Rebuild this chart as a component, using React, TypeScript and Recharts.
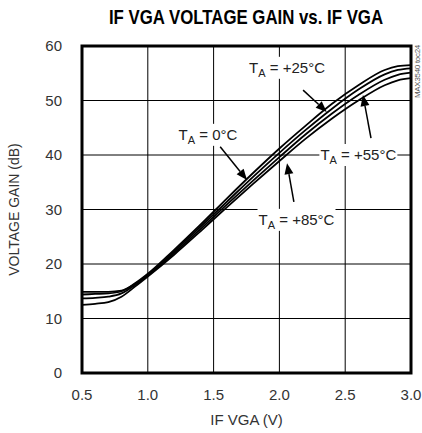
import React from 'react';
import { LineChart, Line, XAxis, YAxis, CartesianGrid, ReferenceArea, ReferenceDot, ReferenceLine, Label } from 'recharts';

const vga = [0.5, 0.6, 0.7, 0.8, 0.9, 1.0, 1.2, 1.4, 1.6, 1.8, 2.0, 2.2, 2.4, 2.6, 2.8, 2.9, 3.0];
const gain0 = [14.9, 14.9, 14.9, 15.1, 16.4, 18.2, 22.6, 27.2, 32.0, 36.7, 41.2, 45.4, 49.4, 52.8, 55.6, 56.3, 56.5];
const gain25 = [14.4, 14.5, 14.6, 15.0, 16.3, 18.0, 22.3, 26.8, 31.4, 36.0, 40.4, 44.6, 48.5, 52.0, 54.8, 55.6, 55.9];
const gain55 = [13.7, 13.8, 14.0, 14.6, 16.1, 17.9, 22.0, 26.4, 30.9, 35.3, 39.6, 43.8, 47.6, 51.0, 53.8, 54.7, 55.1];
const gain85 = [12.5, 12.7, 13.0, 14.0, 15.8, 17.7, 21.7, 26.0, 30.4, 34.7, 38.9, 43.0, 46.7, 50.0, 52.8, 53.7, 54.1];

const xTicks = [0.5, 1.0, 1.5, 2.0, 2.5, 3.0];
const yTicks = [0, 10, 20, 30, 40, 50, 60];

// temperature callouts: label anchor + arrow (tail -> tip), in data units
const callouts = [
  { temp: '0°C', at: [1.457, 43.7], tail: [1.55, 41.5], tip: [1.754, 35.4] },
  { temp: '+25°C', at: [2.058, 56.0], tail: [2.18, 51.9], tip: [2.36, 47.9] },
  { temp: '+55°C', at: [2.6, 40.0], tail: [2.696, 43.1], tip: [2.635, 51.0] },
  { temp: '+85°C', at: [2.13, 28.1], tail: [2.11, 31.4], tip: [2.058, 38.5] },
];

const data = vga.map((v, i) => ({ v, t0: gain0[i], t25: gain25[i], t55: gain55[i], t85: gain85[i] }));

const FONT = '"Liberation Sans", Arial, sans-serif';

const TempLabel = ({ cx, cy, temp }: any) => {
  const w = temp.length > 4 ? 78 : 62;
  return (
    <g>
      <rect x={cx - w / 2} y={cy - 11} width={w} height={22} fill="#fff" />
      <text x={cx} y={cy + 5} textAnchor="middle" fontFamily={FONT} fontSize={15} fill="#222">
        T<tspan fontSize={11} dy={4}>A</tspan>
        <tspan dy={-4}>{` = ${temp}`}</tspan>
      </text>
    </g>
  );
};

const Arrow = ({ x1, y1, x2, y2 }: any) => {
  const dx = x2 - x1, dy = y2 - y1;
  const len = Math.sqrt(dx * dx + dy * dy) || 1;
  const ux = dx / len, uy = dy / len;
  const hl = 11, hw = 4.5;
  const bx = x2 - ux * hl, by = y2 - uy * hl;
  const pts = `${x2},${y2} ${bx - uy * hw},${by + ux * hw} ${bx + uy * hw},${by - ux * hw}`;
  return (
    <g>
      <line x1={x1} y1={y1} x2={bx} y2={by} stroke="#000" strokeWidth={1.5} />
      <polygon points={pts} fill="#000" />
    </g>
  );
};

export default function App() {
  return (
    <div style={{ position: 'absolute', left: 0, top: 0, width: 422, height: 433, background: '#fff', fontFamily: FONT }}>
      <div style={{ position: 'absolute', left: 0, top: 5, width: 492, textAlign: 'center', fontSize: 21, fontWeight: 'bold', color: '#000', transform: 'scaleX(0.8)', transformOrigin: '246px 0' }}>
        IF VGA VOLTAGE GAIN vs. IF VGA
      </div>
      <div style={{ position: 'absolute', left: 414, top: 45, fontSize: 8, lineHeight: '8px', color: '#555', writingMode: 'vertical-rl', transform: 'rotate(180deg)', whiteSpace: 'nowrap', letterSpacing: '-0.3px' }}>MAX3540 toc24</div>
      <LineChart width={422} height={433} data={data} margin={{ top: 46, right: 11, bottom: 5, left: 10 }}>
        <CartesianGrid stroke="#000" strokeWidth={1} horizontalValues={yTicks} verticalValues={xTicks} />
        <XAxis
          dataKey="v"
          type="number"
          domain={[0.5, 3]}
          ticks={xTicks}
          tickFormatter={(t: number) => t.toFixed(1)}
          tickLine={false}
          axisLine={false}
          tick={{ fontSize: 15, fill: '#333', fontFamily: FONT }}
          tickMargin={10}
          height={55}
        >
          <Label value="IF VGA (V)" position="insideBottom" offset={3} style={{ fontSize: 15, fill: '#333', fontFamily: FONT }} />
        </XAxis>
        <YAxis
          type="number"
          domain={[0, 60]}
          ticks={yTicks}
          tickLine={false}
          axisLine={false}
          tick={{ fontSize: 15, fill: '#333', fontFamily: FONT }}
          tickMargin={14}
          width={72}
        >
          <Label value="VOLTAGE GAIN (dB)" angle={-90} position="insideLeft" offset={4} style={{ fontSize: 14, fill: '#333', fontFamily: FONT, textAnchor: 'middle' }} />
        </YAxis>
        <Line type="monotone" dataKey="t0" stroke="#000" strokeWidth={1.8} dot={false} isAnimationActive={false} />
        <Line type="monotone" dataKey="t25" stroke="#000" strokeWidth={1.8} dot={false} isAnimationActive={false} />
        <Line type="monotone" dataKey="t55" stroke="#000" strokeWidth={1.8} dot={false} isAnimationActive={false} />
        <Line type="monotone" dataKey="t85" stroke="#000" strokeWidth={1.8} dot={false} isAnimationActive={false} />
        <ReferenceArea x1={0.5} x2={3} y1={0} y2={60} fill="none" stroke="#000" strokeWidth={3} ifOverflow="visible" />
        {callouts.map((c) => (
          <ReferenceLine
            key={'a' + c.temp}
            segment={[{ x: c.tail[0], y: c.tail[1] }, { x: c.tip[0], y: c.tip[1] }]}
            shape={(p: any) => <Arrow {...p} />}
            ifOverflow="visible"
          />
        ))}
        {callouts.map((c) => (
          <ReferenceDot
            key={'l' + c.temp}
            x={c.at[0]}
            y={c.at[1]}
            ifOverflow="visible"
            shape={(p: any) => <TempLabel cx={p.cx} cy={p.cy} temp={c.temp} />}
          />
        ))}
      </LineChart>
    </div>
  );
}
